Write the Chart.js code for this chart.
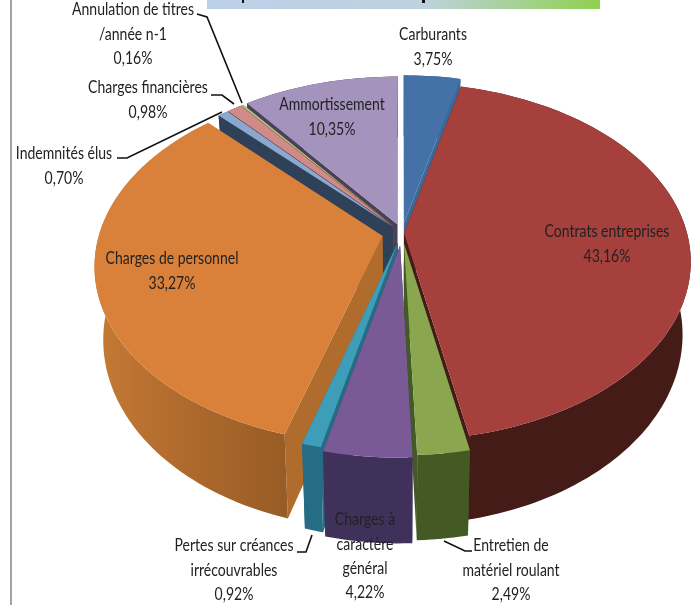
<!DOCTYPE html>
<html>
<head>
<meta charset="utf-8">
<script src="https://cdn.jsdelivr.net/npm/chart.js@4"></script>
<style>
html,body{margin:0;padding:0;background:#fff;overflow:hidden}
canvas{display:block}
</style>
</head>
<body>
<canvas id="pie" width="697" height="605"></canvas>
<script>
const categories = ['Carburants','Contrats entreprises','Entretien de\nmatériel roulant','Charges à\ncaractère\ngénéral','Pertes sur créances\nirrécouvrables','Charges de personnel','Indemnités élus','Charges financières','Annulation de titres\n/année n-1','Ammortissement'];
const values = [3.75,43.16,2.49,4.22,0.92,33.27,0.70,0.98,0.16,10.35];
const topColors = ['#4471a6','#a5403d','#8aa64e','#7a5a96','#3e9db8','#d9813a','#8ca8d0','#d08a88','#b4c27e','#a493bd'];
const sideColors = ['#3a6a9c','#451b18','#435a25','#3f3159','#256c84','#b06c2d','#2f4059','#5f3231','#55603a','#4a4058'];
const explode = [17,2,17,20,16,20,14,14,14,15];
// label anchor: centre x, centre y of first line
const labelX = [433,607,511,365,234,172,64,148,133,332];
const labelY = [35,232,546,520,546,259,154,88,10,105];
const leaders = [null,null,[[472,551],[465,551],[444,541]],null,[[297,552],[306,552],[312,535]],null,[[117,158],[127,158],[222,112]],[[211,95],[222,95],[234,104]],[[197,14],[207,17],[242,103]],null];

const CX = 402, CY = 233, R = 283, FLAT = 174, K = 0.16, DEPTH = 71;

function project(u, v, z){
  const w = 1 - K*v, shrink = 1 - z*0.0004;
  return [CX + R*u/w*shrink, CY + (FLAT*v + z)/w];
}

function facePoints(arc, i, z){
  const off = explode[i]/R, mid = (arc.startAngle+arc.endAngle)/2;
  const ox = off*Math.cos(mid), oy = off*Math.sin(mid);
  const pts = [], n = Math.max(4, Math.ceil((arc.endAngle-arc.startAngle)*40));
  for(let s=0;s<=n;s++){
    const a = arc.startAngle + (arc.endAngle-arc.startAngle)*s/n;
    pts.push(project(ox+Math.cos(a), oy+Math.sin(a), z));
  }
  return {apex: project(ox, oy, z), rim: pts};
}

function fillPoly(ctx, pts, fill){
  ctx.beginPath();
  pts.forEach((p,j)=> j ? ctx.lineTo(p[0],p[1]) : ctx.moveTo(p[0],p[1]));
  ctx.closePath();
  ctx.fillStyle = fill;
  ctx.fill();
}

const pie3d = {
  id:'pie3d',
  beforeDatasetDraw(chart){
    const ctx = chart.ctx, arcs = chart.getDatasetMeta(0).data;
    const order = arcs.map((a,i)=>i).sort((p,q)=>Math.sin((arcs[p].startAngle+arcs[p].endAngle)/2)-Math.sin((arcs[q].startAngle+arcs[q].endAngle)/2));
    order.forEach(i=>{
      const arc = arcs[i], top = facePoints(arc,i,0), bot = facePoints(arc,i,DEPTH);
      const side = sideColors[i];
      fillPoly(ctx,[top.apex,top.rim[0],bot.rim[0],bot.apex],side);
      fillPoly(ctx,[top.apex,top.rim[top.rim.length-1],bot.rim[bot.rim.length-1],bot.apex],side);
      const xs = top.rim.map(p=>p[0]);
      let wall = side;
      if(i===5){
        wall = ctx.createLinearGradient(Math.min(...xs),0,Math.max(...xs),0);
        wall.addColorStop(0,'#c67a35'); wall.addColorStop(.5,'#ae692c'); wall.addColorStop(1,'#985c26');
      }
      fillPoly(ctx,top.rim.concat(bot.rim.slice().reverse()),wall);
      fillPoly(ctx,[top.apex].concat(top.rim),arc.options.backgroundColor);
    });
    return false;
  },
  afterDraw(chart){
    const ctx = chart.ctx;
    // frame line and cropped title band
    ctx.fillStyle = '#a3a3a3';
    ctx.fillRect(10,0,2,605);
    const band = ctx.createLinearGradient(207,0,600,0);
    band.addColorStop(0,'#bdd0ea'); band.addColorStop(.55,'#bdd2de'); band.addColorStop(1,'#90d050');
    ctx.fillStyle = band;
    ctx.fillRect(207,0,393,9);
    ctx.fillStyle = '#111';
    ctx.fillRect(242,0,2,3);
    ctx.fillRect(422,0,3,3);
    // leader lines
    ctx.strokeStyle = '#111'; ctx.lineWidth = 1.6;
    leaders.forEach(l=>{
      if(!l) return;
      ctx.beginPath();
      l.forEach((p,j)=> j ? ctx.lineTo(p[0],p[1]) : ctx.moveTo(p[0],p[1]));
      ctx.stroke();
    });
    // labels, squeezed a bit to get Calibri widths out of Lato
    ctx.font = '16.5px Lato';
    ctx.textAlign = 'center'; ctx.textBaseline = 'middle';
    ctx.fillStyle = '#222';
    categories.forEach((c,i)=>{
      const lines = c.split('\n').concat(values[i].toFixed(2).replace('.',',')+'%');
      lines.forEach((t,j)=>{
        ctx.save();
        ctx.translate(labelX[i],labelY[i]+j*24.3);
        ctx.scale(0.85,1);
        ctx.fillText(t,0,0);
        ctx.restore();
      });
    });
  }
};

new Chart(document.getElementById('pie'),{
  type:'pie',
  data:{labels:categories,datasets:[{data:values,backgroundColor:topColors,borderWidth:0}]},
  options:{responsive:false,animation:false,plugins:{legend:{display:false},tooltip:{enabled:false}}},
  plugins:[pie3d]
});
</script>
</body>
</html>
